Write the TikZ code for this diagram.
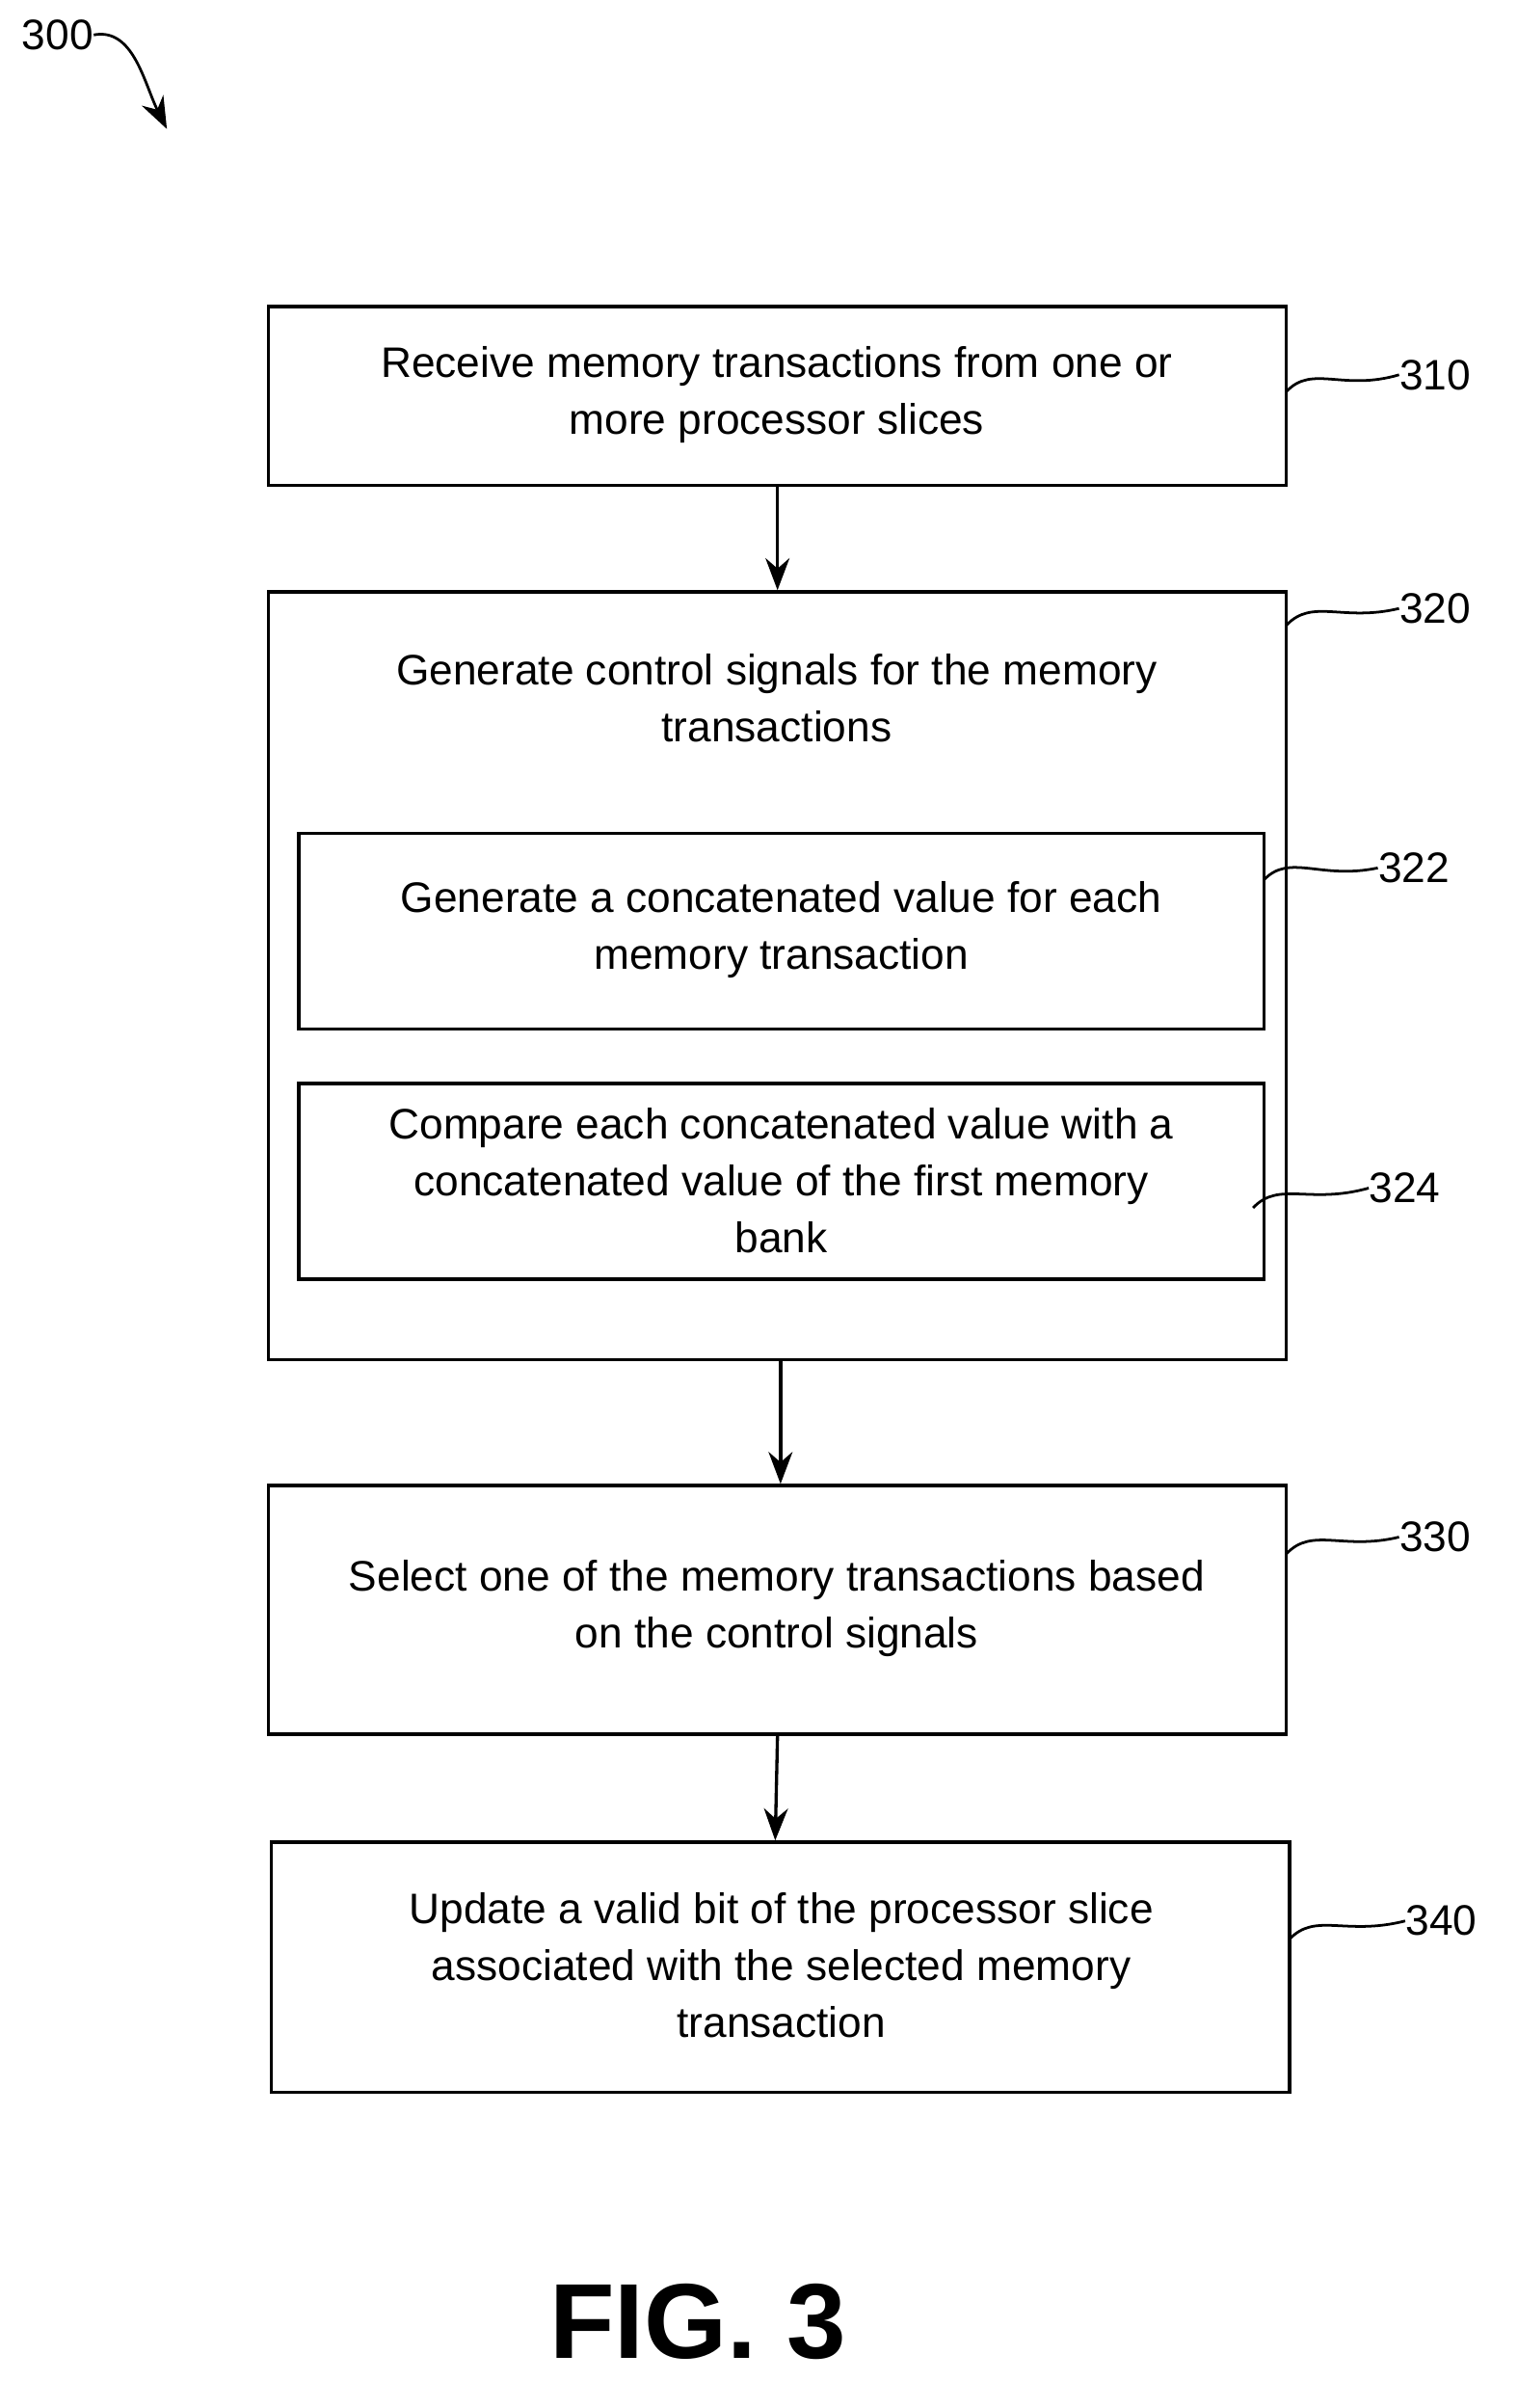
\documentclass[tikz,border=0pt]{standalone}
\usepackage{fontspec}
\setmainfont{Liberation Sans}
\usetikzlibrary{arrows.meta}
\begin{document}
\begin{tikzpicture}[x=0.02cm,y=-0.02cm,
  box/.style={draw,line width=1.2pt,inner sep=0pt},
  txt/.style={align=center,font=\fontsize{16}{21.3}\selectfont,inner sep=0pt},
  lab/.style={font=\fontsize{16}{19}\selectfont,inner sep=0pt},
  arr/.style={line width=1.2pt,-{Stealth[length=12pt,width=9pt]}},
  lead/.style={line width=1pt}]
\useasboundingbox (0,0) rectangle (1000,1587);
% boxes
\node[box,minimum width=671*0.02cm,minimum height=118*0.02cm] (b310) at (512.5,261) {};
\node[box,minimum width=671*0.02cm,minimum height=506*0.02cm] (b320) at (512.5,643) {};
\node[box,minimum width=636*0.02cm,minimum height=129*0.02cm] (b322) at (515,613.5) {};
\node[box,minimum width=636*0.02cm,minimum height=129*0.02cm] (b324) at (515,778.5) {};
\node[box,minimum width=671*0.02cm,minimum height=164*0.02cm] (b330) at (512.5,1061) {};
\node[box,minimum width=671*0.02cm,minimum height=165*0.02cm] (b340) at (514.5,1296.5) {};
% texts
\node[txt] (t310) at (512,260) {Receive memory transactions from one or\\more processor slices};
\node[txt] (t320) at (512,460) {Generate control signals for the memory\\transactions};
\node[txt] (t322) at (515,613) {Generate a concatenated value for each\\memory transaction};
\node[txt] (t324) at (515,778) {Compare each concatenated value with a\\concatenated value of the first memory\\bank};
\node[txt] (t330) at (512,1060) {Select one of the memory transactions based\\on the control signals};
\node[txt] (t340) at (515,1295) {Update a valid bit of the processor slice\\associated with the selected memory\\transaction};
% arrows
\draw[arr] (b310.south) -- (b320.north);
\draw[arr] ([xshift=0.04cm]b320.south) -- ([xshift=0.04cm]b330.north);
\draw[arr] (b330.south) -- ([xshift=-0.07cm]b340.north);
% labels
\node[lab] (l300) at (38,23) {300};
\node[lab] (l310) at (946,247) {310};
\node[lab] (l320) at (946,401) {320};
\node[lab] (l322) at (932,572) {322};
\node[lab] (l324) at (926,783) {324};
\node[lab] (l330) at (946,1013) {330};
\node[lab] (l340) at (950,1266) {340};
\coordinate (p300) at (110,85);
\draw[lead,-{Stealth[length=12pt,width=9pt]}] (l300.east) .. controls (88,18) and (95,55) .. (p300);
\draw[lead] (848,258) .. controls (865,240) and (885,258) .. (l310.west);
\draw[lead] (848,412) .. controls (865,394) and (885,410) .. (l320.west);
\draw[lead] (833,580) .. controls (850,562) and (870,580) .. (l322.west);
\draw[lead] (826,796) .. controls (843,778) and (863,794) .. (l324.west);
\draw[lead] (848,1024) .. controls (865,1006) and (885,1022) .. (l330.west);
\draw[lead] (850,1278) .. controls (867,1260) and (887,1276) .. (l340.west);
\node[font=\fontsize{40}{40}\selectfont\bfseries,inner sep=0pt] (fig) at (460,1530) {FIG. 3};
\end{tikzpicture}
\end{document}
